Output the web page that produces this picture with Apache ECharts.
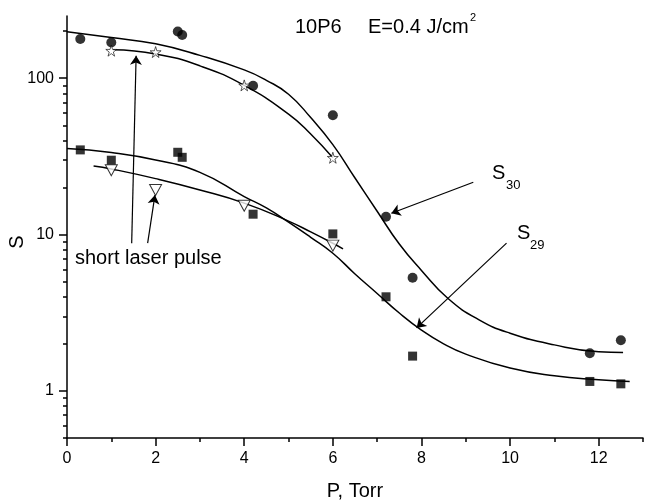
<!DOCTYPE html>
<html>
<head>
  <meta charset="UTF-8" />
  <title>S vs P</title>
  <style>
    body { margin: 0; background: #fff; }
    #chart { width: 645px; height: 503px; }
  </style>
  <script src="https://cdn.jsdelivr.net/npm/echarts@6/dist/echarts.min.js"></script>
</head>
<body>
  <div id="chart"></div>
  <script>
    // measured points (same pressures for S30 and S29)
    var xMain = [0.3, 1.0, 2.5, 2.6, 4.2, 6.0, 7.2, 7.8, 11.8, 12.5];
    var s30Main = [178, 169, 199, 189, 89.5, 58, 13.0, 5.3, 1.74, 2.11];
    var s29Main = [34.8, 29.9, 33.6, 31.2, 13.5, 10.1, 4.0, 1.67, 1.15, 1.11];

    // short laser pulse
    var xShort = [1, 2, 4, 6];
    var s30Short = [150, 147, 90, 31];
    var s29Short = [25.8, 19.3, 15.3, 8.5];

    // fitted curves
    var fitS30X = [0, 1, 2, 3, 4, 4.5, 5, 5.5, 6, 6.5, 7, 7.5, 8, 8.6, 9.3, 10, 11, 12, 12.55];
    var fitS30Y = [198, 182, 166, 140, 113, 97, 79, 56, 37.6, 23, 14.1, 8.7, 5.9, 3.9, 2.85, 2.34, 1.97, 1.78, 1.76];
    var fitS29X = [0, 1, 2, 3, 4, 4.5, 5, 5.5, 6, 6.5, 7, 7.5, 8, 8.5, 9, 10, 11, 12, 12.7];
    var fitS29Y = [35.5, 33.5, 30, 25, 17.5, 14.8, 12, 9.6, 7.6, 5.6, 4.2, 3.15, 2.45, 2.0, 1.72, 1.40, 1.25, 1.18, 1.15];
    var fitShort30X = [1.04, 2, 3, 4, 5, 5.5, 6];
    var fitShort30Y = [152, 143, 120, 90, 59, 44, 31];
    var fitShort29X = [0.6, 1, 2, 3, 4, 5, 5.5, 6, 6.23];
    var fitShort29Y = [27.5, 26.3, 22.8, 19.3, 15.9, 12.2, 10.4, 8.8, 8.1];

    // ticks
    var xMajorTicks = [0, 2, 4, 6, 8, 10, 12];
    var xMinorTicks = [1, 3, 5, 7, 9, 11, 13];
    var yMajorTicks = [1, 10, 100];
    var yMinorTicks = [0.5, 0.6, 0.7, 0.8, 0.9, 2, 3, 4, 5, 6, 7, 8, 9,
                       20, 30, 40, 50, 60, 70, 80, 90, 200];

    // arrows in data coordinates [from, to]
    var arrows = [
      [[9.17, 21.6], [7.32, 13.7]],
      [[9.92, 8.81], [7.89, 2.53]],
      [[1.46, 8.81], [1.56, 139]],
      [[1.82, 8.81], [1.985, 17.9]]
    ];

    function zip(xs, ys) {
      return xs.map(function (x, i) { return [x, ys[i]]; });
    }

    var FONT = 'Liberation Sans, Arial, sans-serif';
    var STAR = 'path://M50,0 L61,35 L98,35 L68,57 L79,91 L50,70 L21,91 L32,57 L2,35 L39,35 Z';

    var chart = echarts.init(document.getElementById('chart'));

    function fitLine(xs, ys) {
      return {
        type: 'line', data: zip(xs, ys), smooth: true, symbol: 'none', z: 2,
        lineStyle: { color: '#000', width: 1.5 }, silent: true
      };
    }

    var option = {
      animation: false,
      backgroundColor: '#fff',
      grid: { left: 67, right: 2, top: 16, bottom: 65 },
      xAxis: [{
        type: 'value', min: 0, max: 13, position: 'bottom',
        splitLine: { show: false },
        axisLine: { lineStyle: { color: '#000', width: 1.5 } },
        axisTick: { inside: false, length: 8, customValues: xMajorTicks, lineStyle: { color: '#000', width: 1.5 } },
        axisLabel: { customValues: xMajorTicks, margin: 13, color: '#000', fontSize: 16, fontFamily: FONT }
      }, {
        type: 'value', min: 0, max: 13, position: 'bottom',
        splitLine: { show: false },
        axisLine: { show: false },
        axisTick: { inside: false, length: 4, customValues: xMinorTicks, lineStyle: { color: '#000', width: 1.5 } },
        axisLabel: { show: false }
      }],
      yAxis: [{
        type: 'log', logBase: 10, min: 0.5, max: 250, position: 'left',
        splitLine: { show: false },
        axisLine: { lineStyle: { color: '#000', width: 1.5 } },
        axisTick: { inside: false, length: 8, customValues: yMajorTicks, lineStyle: { color: '#000', width: 1.5 } },
        axisLabel: { customValues: yMajorTicks, margin: 13, color: '#000', fontSize: 16, fontFamily: FONT }
      }, {
        type: 'log', logBase: 10, min: 0.5, max: 250, position: 'left',
        splitLine: { show: false },
        axisLine: { show: false },
        axisTick: { inside: false, length: 4, customValues: yMinorTicks, lineStyle: { color: '#000', width: 1.5 } },
        axisLabel: { show: false }
      }],
      series: [
        fitLine(fitS30X, fitS30Y),
        fitLine(fitS29X, fitS29Y),
        fitLine(fitShort30X, fitShort30Y),
        fitLine(fitShort29X, fitShort29Y),
        {
          type: 'scatter', data: zip(xMain, s30Main), symbol: 'circle', symbolSize: 10, z: 3,
          itemStyle: { color: '#000' }
        },
        {
          type: 'scatter', data: zip(xMain, s29Main), symbol: 'rect', symbolSize: 9, z: 3,
          itemStyle: { color: '#000' }
        },
        {
          type: 'scatter', data: zip(xShort, s30Short), symbol: STAR, symbolSize: 11, z: 3,
          itemStyle: { color: '#fff', borderColor: '#000', borderWidth: 0.8 }
        },
        {
          type: 'scatter', data: zip(xShort, s29Short), symbol: 'triangle', symbolRotate: 180,
          symbolSize: [12, 11], z: 3,
          itemStyle: { color: '#fff', borderColor: '#000', borderWidth: 1 }
        },
        {
          type: 'line', data: [], silent: true,
          markLine: {
            silent: true, animation: false,
            symbol: ['none', 'arrow'], symbolSize: 9,
            label: { show: false },
            lineStyle: { color: '#000', width: 1.2, type: 'solid' },
            data: arrows.map(function (a) {
              return [{ coord: a[0] }, { coord: a[1] }];
            })
          }
        }
      ],
      graphic: [
        { type: 'text', x: 295, y: 27, style: { text: '10P6', font: '20px ' + FONT, fill: '#000', verticalAlign: 'middle' } },
        { type: 'text', x: 368, y: 27, style: { text: 'E=0.4 J/cm', font: '20px ' + FONT, fill: '#000', verticalAlign: 'middle' } },
        { type: 'text', x: 470, y: 18, style: { text: '2', font: '11px ' + FONT, fill: '#000', verticalAlign: 'middle' } },
        { type: 'text', x: 492, y: 173, style: { text: 'S', font: '20px ' + FONT, fill: '#000', verticalAlign: 'middle' } },
        { type: 'text', x: 506, y: 185, style: { text: '30', font: '13px ' + FONT, fill: '#000', verticalAlign: 'middle' } },
        { type: 'text', x: 517, y: 233, style: { text: 'S', font: '20px ' + FONT, fill: '#000', verticalAlign: 'middle' } },
        { type: 'text', x: 530, y: 245, style: { text: '29', font: '13px ' + FONT, fill: '#000', verticalAlign: 'middle' } },
        { type: 'text', x: 75, y: 258, style: { text: 'short laser pulse', font: '20px ' + FONT, fill: '#000', verticalAlign: 'middle' } },
        { type: 'text', x: 17, y: 242, rotation: Math.PI / 2, style: { text: 'S', font: '20px ' + FONT, fill: '#000', align: 'center', verticalAlign: 'middle' } },
        { type: 'text', x: 355, y: 491, style: { text: 'P, Torr', font: '20px ' + FONT, fill: '#000', align: 'center', verticalAlign: 'middle' } }
      ]
    };

    chart.setOption(option);
  </script>
</body>
</html>
